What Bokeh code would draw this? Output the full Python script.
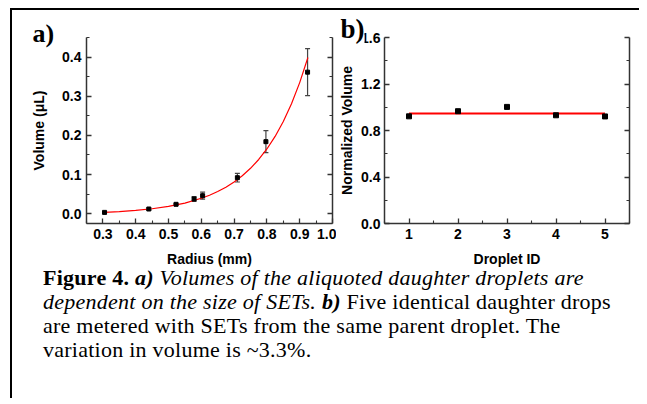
from bokeh.plotting import figure
from bokeh.layouts import row, column
from bokeh.models import (ColumnDataSource, Whisker, TeeHead, LinearAxis, FixedTicker,
                          PrintfTickFormatter, CustomJSTickFormatter, Div, Range1d)
from bokeh.embed import file_html
from bokeh.resources import INLINE

# ---------------- data ----------------
# panel a: volume vs radius
radius = [0.305, 0.440, 0.523, 0.578, 0.604, 0.710, 0.797, 0.924]
volume = [0.0034, 0.012, 0.024, 0.0376, 0.046, 0.092, 0.184, 0.3615]
vol_err = [0.002, 0.002, 0.002, 0.006, 0.009, 0.011, 0.028, 0.060]
# red fit curve
fit_r = [0.305, 0.35, 0.40, 0.45, 0.50, 0.55, 0.60, 0.625, 0.65, 0.675, 0.70,
         0.725, 0.75, 0.775, 0.80, 0.825, 0.85, 0.875, 0.90, 0.925]
fit_v = [0.0034, 0.0054, 0.0084, 0.0126, 0.0187, 0.0272, 0.0394, 0.0473, 0.0567,
         0.0678, 0.0812, 0.0971, 0.116, 0.1385, 0.1653, 0.1973, 0.2354, 0.2806,
         0.3348, 0.399]
a_xticks = [0.3, 0.4, 0.5, 0.6, 0.7, 0.8, 0.9, 1.0]
a_xminor = [0.25, 0.35, 0.45, 0.55, 0.65, 0.75, 0.85, 0.95]
a_yticks = [0.0, 0.1, 0.2, 0.3, 0.4]
a_yminor = [-0.05, 0.05, 0.15, 0.25, 0.35, 0.45]

# panel b: normalized volume per droplet
droplet_id = [1, 2, 3, 4, 5]
norm_vol = [0.922, 0.966, 1.003, 0.931, 0.921]
mean_x = [1, 5]
mean_v = [0.947, 0.947]
b_xticks = [1, 2, 3, 4, 5]
b_xminor = [0.5, 1.5, 2.5, 3.5, 4.5, 5.5]
b_yticks = [0.0, 0.4, 0.8, 1.2, 1.6]
b_yminor = [0.2, 0.6, 1.0, 1.4]

caption_lines = [
    "<b>Figure 4.</b> <i><b>a)</b> Volumes of the aliquoted daughter droplets are</i>",
    "<i>dependent on the size of SETs.</i> <b><i>b)</i></b> Five identical daughter drops",
    "are metered with SETs from the same parent droplet. The",
    "variation in volume is ~3.3%.",
]

AX = "#333333"
SANS = "Liberation Sans"
SERIF = "Liberation Serif"


def style_axis(ax, ticks, minor, fmt, show_labels=True):
    ax.ticker = FixedTicker(ticks=ticks, minor_ticks=minor)
    if fmt:
        ax.formatter = PrintfTickFormatter(format=fmt)
    ax.axis_line_color = AX
    ax.axis_line_width = 1.5
    ax.major_tick_line_color = AX
    ax.minor_tick_line_color = AX
    ax.major_tick_line_width = 1.3
    ax.minor_tick_line_width = 1.1
    ax.major_tick_in = 5
    ax.major_tick_out = 0
    ax.minor_tick_in = 3
    ax.minor_tick_out = 0
    ax.major_label_text_font = SANS
    ax.major_label_text_font_style = "bold"
    ax.major_label_text_color = "black"
    ax.major_label_text_font_size = "14px"
    ax.axis_label_text_font = SANS
    ax.axis_label_text_font_style = "bold"
    ax.axis_label_text_font_size = "14px"
    ax.axis_label_text_color = "black"
    if show_labels:
        ax.major_label_standoff = 5
    else:
        ax.formatter = CustomJSTickFormatter(code="return ''")
        ax.major_label_standoff = 0


def make_fig(width, left, right, xr, yr, tag, tag_offset, tag_standoff, tag_size):
    p = figure(width=width, height=262, output_backend="svg", toolbar_location=None,
               x_range=Range1d(*xr), y_range=Range1d(*yr),
               min_border_left=left, min_border_right=right,
               min_border_top=27, min_border_bottom=49, title=tag)
    p.title.align = "left"
    p.title.offset = tag_offset
    p.title.standoff = tag_standoff
    p.title.text_font = SERIF
    p.title.text_font_style = "bold"
    p.title.text_font_size = tag_size
    p.title.text_color = "black"
    p.title.text_line_height = 1.0
    p.outline_line_color = None
    p.grid.visible = False
    p.background_fill_color = "white"
    p.border_fill_color = "white"
    return p


# ---------------- panel a ----------------
pa = make_fig(324, 74, 4, (0.25, 1.0), (-0.025, 0.45), "a)", -54, -20, "26px")
style_axis(pa.xaxis[0], a_xticks, a_xminor, "%.1f")
style_axis(pa.yaxis[0], a_yticks, a_yminor, "%.1f")
pa.xaxis[0].axis_label = "Radius (mm)"
pa.yaxis[0].axis_label = "Volume (\u03bcL)"
pa.xaxis[0].major_label_standoff = 5
pa.xaxis[0].axis_label_standoff = 9
pa.yaxis[0].axis_label_standoff = 12
ra = LinearAxis()
style_axis(ra, a_yticks, a_yminor, None, show_labels=False)
pa.add_layout(ra, "right")

pa.line(fit_r, fit_v, line_color="#ff0000", line_width=1.2)
src_a = ColumnDataSource(dict(
    x=radius, y=volume,
    upper=[v + e for v, e in zip(volume, vol_err)],
    lower=[v - e for v, e in zip(volume, vol_err)]))
pa.add_layout(Whisker(source=src_a, base="x", upper="upper", lower="lower",
                      line_color="#444444", line_width=1.2,
                      upper_head=TeeHead(size=5, line_color="#444444", line_width=1.2),
                      lower_head=TeeHead(size=5, line_color="#444444", line_width=1.2)))
pa.scatter("x", "y", source=src_a, marker="square", size=4, fill_color="black",
           line_color="black")

# ---------------- panel b ----------------
pb = make_fig(303, 46, 10, (0.5, 5.5), (0.0, 1.6), "b)", -44, -13, "27px")
pb.title.background_fill_color = "white"
style_axis(pb.xaxis[0], b_xticks, b_xminor, None)
style_axis(pb.yaxis[0], b_yticks, b_yminor, "%.1f")
pb.xaxis[0].axis_label = "Droplet ID"
pb.yaxis[0].axis_label = "Normalized Volume"
pb.xaxis[0].major_label_standoff = 5
pb.xaxis[0].axis_label_standoff = 9
pb.yaxis[0].major_label_standoff = 4
pb.yaxis[0].axis_label_standoff = 3
rb = LinearAxis()
style_axis(rb, b_yticks, b_yminor, None, show_labels=False)
pb.add_layout(rb, "right")

pb.line(mean_x, mean_v, line_color="#ff0000", line_width=2)
pb.scatter(droplet_id, norm_vol, marker="square", size=5, fill_color="black",
           line_color="black")

# ---------------- caption + frame ----------------
cap_html = ("<div style=\"font-family:'Liberation Serif','Times New Roman',serif;"
            "font-size:22px;line-height:24px;letter-spacing:0.25px;white-space:nowrap;"
            "color:black;padding-left:31px;margin:0;\">"
            + "<br>".join(caption_lines) + "</div>")
caption = Div(text=cap_html, width=627, height=132, margin=(-6, 0, 0, 0))

layout = column(row(pa, pb), caption, margin=(8, 0, 0, 10),
                styles={"border-top": "2px solid black",
                        "border-left": "2px solid black"})

open("out.html", "w").write(file_html(layout, INLINE))
